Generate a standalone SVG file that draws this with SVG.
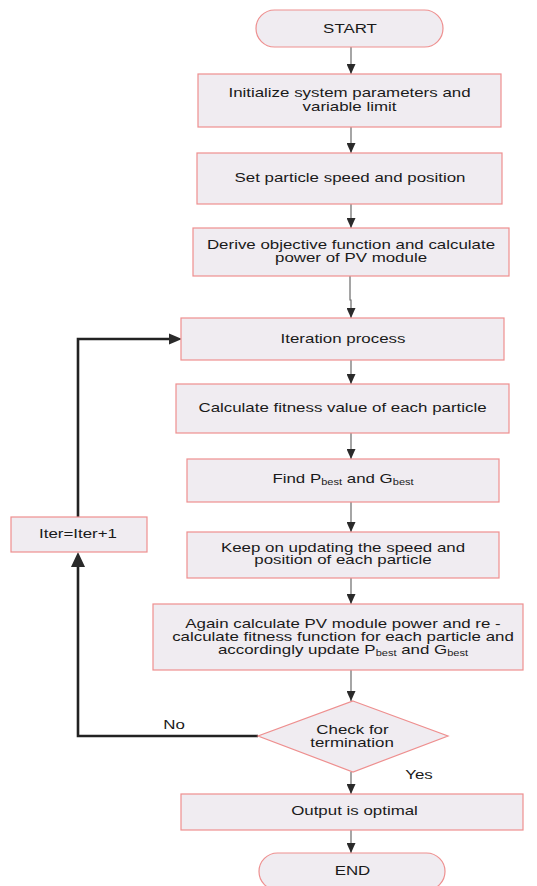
<svg xmlns="http://www.w3.org/2000/svg" width="537" height="886" viewBox="0 0 537 886">
<style>
.n{fill:#f0ecf1;stroke:#ee8f8f;stroke-width:1.2}
.t{font-family:"Liberation Sans",Arial,sans-serif;font-size:13px;fill:#1a1a1a;text-anchor:middle}
.s{font-size:8.5px}
.c{stroke:#6a6a6a;stroke-width:1.2;fill:none}
.l{stroke:#222;stroke-width:2.6;fill:none}
.h{fill:#2a2a2a}
</style>
<defs>
<marker id="a" markerUnits="userSpaceOnUse" markerWidth="12" markerHeight="9" refX="10" refY="4.5" orient="auto"><path d="M0,0 L10,4.5 L0,9 Z" fill="#2a2a2a"/></marker>
</defs>
<rect width="537" height="886" fill="#fff"/>
<g id="connectors">
<path class="c" d="M351,47 V74" marker-end="url(#a)"/>
<path class="c" d="M351,127 V153" marker-end="url(#a)"/>
<path class="c" d="M351,204 V228" marker-end="url(#a)"/>
<path class="c" d="M350,276 V300 H351 V318" marker-end="url(#a)"/>
<path class="c" d="M351,360 V384" marker-end="url(#a)"/>
<path class="c" d="M351,433 V459" marker-end="url(#a)"/>
<path class="c" d="M351,502 V532" marker-end="url(#a)"/>
<path class="c" d="M351,578 V604" marker-end="url(#a)"/>
<path class="c" d="M351,670 V701" marker-end="url(#a)"/>
<path class="c" d="M351,772 V794" marker-end="url(#a)"/>
<path class="c" d="M351,830 V853" marker-end="url(#a)"/>
<path class="l" d="M258,736 H78 V566"/>
<polygon class="h" points="78,552 71,567 85,567"/>
<path class="l" d="M78,517 V339 H171"/>
<polygon class="h" points="182,339 169,333.5 169,344.5"/>
<text class="t" transform="matrix(1.3 0 0 1 174 729)">No</text>
<text class="t" transform="matrix(1.3 0 0 1 419 779)">Yes</text>
</g>
<g id="start">
<rect class="n" x="256" y="10" width="187" height="37" rx="18.5"/>
<text class="t" transform="matrix(1.3 0 0 1 350 33)">START</text>
</g>
<g id="init">
<rect class="n" x="198" y="74" width="303" height="53"/>
<text class="t" transform="matrix(1.3 0 0 1 349.5 97)">Initialize system parameters and</text>
<text class="t" transform="matrix(1.3 0 0 1 349.5 111)">variable limit</text>
</g>
<g id="set">
<rect class="n" x="197" y="153" width="305" height="51"/>
<text class="t" transform="matrix(1.3 0 0 1 350 182)">Set particle speed and position</text>
</g>
<g id="derive">
<rect class="n" x="193" y="228" width="316" height="48"/>
<text class="t" transform="matrix(1.3 0 0 1 351 249)">Derive objective function and calculate</text>
<text class="t" transform="matrix(1.3 0 0 1 351 262)">power of PV module</text>
</g>
<g id="iteration">
<rect class="n" x="181" y="318" width="323" height="42"/>
<text class="t" transform="matrix(1.3 0 0 1 343 343)">Iteration process</text>
</g>
<g id="fitness">
<rect class="n" x="176" y="384" width="333" height="49"/>
<text class="t" transform="matrix(1.3 0 0 1 342.5 412)">Calculate fitness value of each particle</text>
</g>
<g id="find">
<rect class="n" x="187" y="459" width="312" height="43"/>
<text class="t" transform="matrix(1.3 0 0 1 343 483)">Find P<tspan class="s" dy="2">best</tspan><tspan dy="-2"> and G</tspan><tspan class="s" dy="2">best</tspan></text>
</g>
<g id="keep">
<rect class="n" x="187" y="532" width="312" height="46"/>
<text class="t" transform="matrix(1.3 0 0 1 343 552)">Keep on updating the speed and</text>
<text class="t" transform="matrix(1.3 0 0 1 343 564)">position of each particle</text>
</g>
<g id="again">
<rect class="n" x="153" y="604" width="370" height="66"/>
<text class="t" transform="matrix(1.3 0 0 1 343 628)">Again calculate PV module power and re -</text>
<text class="t" transform="matrix(1.3 0 0 1 343 641)">calculate fitness function for each particle and</text>
<text class="t" transform="matrix(1.3 0 0 1 343 654)">accordingly update P<tspan class="s" dy="2">best</tspan><tspan dy="-2"> and G</tspan><tspan class="s" dy="2">best</tspan></text>
</g>
<g id="iter">
<rect class="n" x="11" y="517" width="136" height="35"/>
<text class="t" transform="matrix(1.3 0 0 1 78 538)">Iter=Iter+1</text>
</g>
<g id="check">
<polygon class="n" points="353,701 448,736 353,772 258,736"/>
<text class="t" transform="matrix(1.3 0 0 1 352.5 734)">Check for</text>
<text class="t" transform="matrix(1.3 0 0 1 352 747)">termination</text>
</g>
<g id="output">
<rect class="n" x="181" y="794" width="342" height="36"/>
<text class="t" transform="matrix(1.3 0 0 1 354.5 815)">Output is optimal</text>
</g>
<g id="end">
<rect class="n" x="259" y="853" width="186" height="37" rx="18.5"/>
<text class="t" transform="matrix(1.3 0 0 1 352.5 875)">END</text>
</g>
</svg>
